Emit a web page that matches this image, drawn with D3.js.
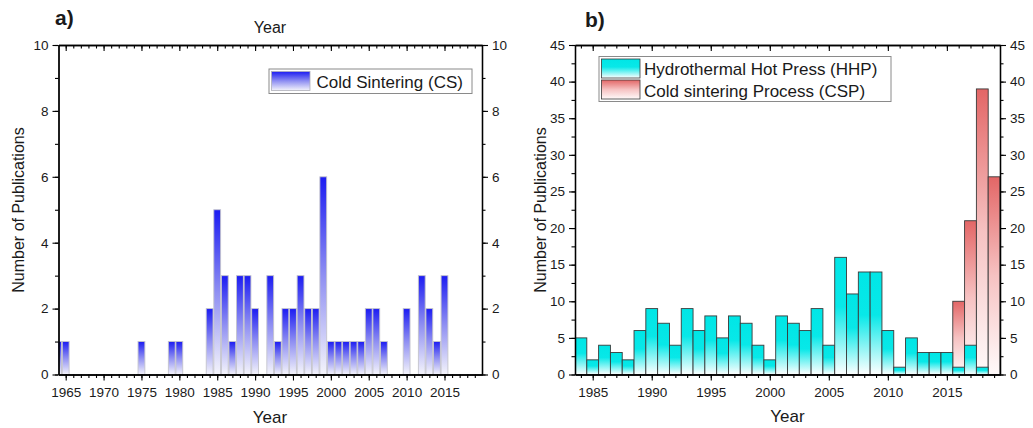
<!DOCTYPE html>
<html><head><meta charset="utf-8">
<script src="https://cdn.jsdelivr.net/npm/d3@7"></script>
<style>
body{margin:0;background:#fff}
text{font-family:"Liberation Sans",Arial,sans-serif;fill:#1a1a1a}
</style>
</head><body>
<svg id="c" width="1033" height="428"></svg>
<script>
// ---- Panel a data: Cold Sintering (CS)
const csYears  = [1964,1965,1975,1979,1980,1984,1985,1986,1987,1988,1989,1990,1992,1993,1994,1995,1996,1997,1998,1999,2000,2001,2002,2003,2004,2005,2006,2007,2010,2012,2013,2014,2015];
const csCounts = [1,1,1,1,1,2,5,3,1,3,3,2,3,1,2,2,3,2,2,6,1,1,1,1,1,2,2,1,2,3,2,1,3];
const aXTickLabels = [1965,1970,1975,1980,1985,1990,1995,2000,2005,2010,2015];
const aYTickLabels = [0,2,4,6,8,10];

// ---- Panel b data
const hhpYears  = [1984,1985,1986,1987,1988,1989,1990,1991,1992,1993,1994,1995,1996,1997,1998,1999,2000,2001,2002,2003,2004,2005,2006,2007,2008,2009,2010,2011,2012,2013,2014,2015,2016,2017,2018,2019];
const hhpCounts = [5,2,4,3,2,6,9,7,4,9,6,8,5,8,7,4,2,8,7,6,9,4,16,11,14,14,6,1,5,3,3,3,1,4,1,0];
const cspYears  = [2016,2017,2018,2019];
const cspCounts = [10,21,39,27];
const bXTickLabels = [1985,1990,1995,2000,2005,2010,2015];
const bYTickLabels = [0,5,10,15,20,25,30,35,40,45];

const svg = d3.select("#c");
const defs = svg.append("defs");
function grad(id, stops){
  const g = defs.append("linearGradient").attr("id",id).attr("x1",0).attr("y1",0).attr("x2",0).attr("y2",1);
  stops.forEach(s=>g.append("stop").attr("offset",s[0]).attr("stop-color",s[1]));
}
grad("gBlue",[[0,"#1c1cf2"],[0.5,"#8f8ff2"],[1,"#f4f4fb"]]);
grad("gCyan",[[0,"#00e6e6"],[0.42,"#08e8e8"],[1,"#ffffff"]]);
grad("gRed",[[0,"#e36666"],[0.5,"#f6c2c2"],[1,"#fffafa"]]);

const TOP=45, BOT=374.5;

function frame(x, y, xMajor, xMinor, yMajor, yMinor){
  const L = x.range()[0], R = x.range()[1];
  const g = svg.append("g");
  const style = sel=>{
    sel.selectAll(".domain").attr("stroke","#000").attr("stroke-width",1.3);
    sel.selectAll(".tick line").attr("stroke","#000").attr("stroke-width",1.1);
    sel.selectAll(".tick text").style("font-size","13.5px").attr("fill","#1a1a1a")
      .style("font-family",'"Liberation Sans",Arial,sans-serif');
  };
  g.append("g").attr("transform",`translate(0,${BOT})`).call(d3.axisBottom(x).tickValues(xMinor).tickSize(3.5).tickFormat("").tickSizeOuter(0)).call(style);
  g.append("g").attr("transform",`translate(0,${TOP})`).call(d3.axisBottom(x).tickValues(xMinor).tickSize(3.5).tickFormat("").tickSizeOuter(0)).call(style);
  g.append("g").attr("transform",`translate(${L},0)`).call(d3.axisLeft(y).tickValues(yMinor).tickSize(3.5).tickFormat("").tickSizeOuter(0)).call(style);
  g.append("g").attr("transform",`translate(${R},0)`).call(d3.axisRight(y).tickValues(yMinor).tickSize(3.5).tickFormat("").tickSizeOuter(0)).call(style);
  g.append("g").attr("transform",`translate(0,${BOT})`).call(d3.axisBottom(x).tickValues(xMajor).tickSize(6).tickPadding(7).tickFormat(d3.format("d")).tickSizeOuter(0)).call(style);
  g.append("g").attr("transform",`translate(0,${TOP})`).call(d3.axisBottom(x).tickValues(xMajor).tickSize(6).tickFormat("").tickSizeOuter(0)).call(style);
  g.append("g").attr("transform",`translate(${L},0)`).call(d3.axisLeft(y).tickValues(yMajor).tickSize(6).tickPadding(4).tickSizeOuter(0)).call(style);
  g.append("g").attr("transform",`translate(${R},0)`).call(d3.axisRight(y).tickValues(yMajor).tickSize(6).tickPadding(4).tickSizeOuter(0)).call(style);
}

function clip(id, x){
  const L=x.range()[0], R=x.range()[1];
  defs.append("clipPath").attr("id",id).append("rect").attr("x",L).attr("y",TOP).attr("width",R-L).attr("height",BOT-TOP);
}

// ===== Panel a =====
const xA = d3.scaleLinear().domain([1964.05,2019.95]).range([58.5,482]);
const yA = d3.scaleLinear().domain([0,10]).range([BOT,TOP]);
clip("clipA", xA);
svg.append("g").attr("clip-path","url(#clipA)").selectAll("rect")
  .data(csYears.map((d,i)=>({year:d,v:csCounts[i]})))
  .join("rect")
  .attr("x",d=>xA(d.year-0.45)).attr("width",d=>xA(d.year+0.45)-xA(d.year-0.45))
  .attr("y",d=>yA(d.v)).attr("height",d=>yA(0)-yA(d.v))
  .attr("fill","url(#gBlue)").attr("stroke","#c4c4cc").attr("stroke-width",0.9);

frame(xA, yA, aXTickLabels, d3.range(1965,2020), aYTickLabels, d3.range(0,11));

svg.append("text").attr("x",270).attr("y",423).attr("text-anchor","middle").style("font-size","17px").text("Year");
svg.append("text").attr("x",270).attr("y",33).attr("text-anchor","middle").style("font-size","16px").text("Year");
svg.append("text").attr("transform","translate(24,210) rotate(-90)").attr("text-anchor","middle").style("font-size","16px").text("Number of Publications");
svg.append("text").attr("x",55).attr("y",25).style("font-size","21px").style("font-weight","bold").text("a)");

// legend a
svg.append("rect").attr("x",269).attr("y",69).attr("width",203).attr("height",24.5).attr("fill","#fff").attr("stroke","#8a8a8a").attr("stroke-width",1);
svg.append("rect").attr("x",271.5).attr("y",71.5).attr("width",38.5).attr("height",19).attr("fill","url(#gBlue)").attr("stroke","#b0b0b8").attr("stroke-width",0.8);
svg.append("text").attr("x",316.5).attr("y",88).style("font-size","17px").text("Cold Sintering (CS)");

// ===== Panel b =====
const xB = d3.scaleLinear().domain([1983.5,2019.5]).range([575,1000]);
const yB = d3.scaleLinear().domain([0,45]).range([BOT,TOP]);
clip("clipB", xB);
const gb = svg.append("g").attr("clip-path","url(#clipB)");
gb.append("g").selectAll("rect")
  .data(cspYears.map((d,i)=>({year:d,v:cspCounts[i]})))
  .join("rect")
  .attr("x",d=>xB(d.year-0.5)).attr("width",d=>xB(d.year+0.5)-xB(d.year-0.5))
  .attr("y",d=>yB(d.v)).attr("height",d=>yB(0)-yB(d.v))
  .attr("fill","url(#gRed)").attr("stroke","#3a3a3a").attr("stroke-width",0.9);
gb.append("g").selectAll("rect")
  .data(hhpYears.map((d,i)=>({year:d,v:hhpCounts[i]})).filter(d=>d.v>0))
  .join("rect")
  .attr("x",d=>xB(d.year-0.5)).attr("width",d=>xB(d.year+0.5)-xB(d.year-0.5))
  .attr("y",d=>yB(d.v)).attr("height",d=>yB(0)-yB(d.v))
  .attr("fill","url(#gCyan)").attr("stroke","#3a3a3a").attr("stroke-width",0.9);

frame(xB, yB, bXTickLabels, d3.range(1984,2020), bYTickLabels, d3.range(0,46,2.5));

svg.append("text").attr("x",787.5).attr("y",422).attr("text-anchor","middle").style("font-size","17px").text("Year");
svg.append("text").attr("transform","translate(546,210) rotate(-90)").attr("text-anchor","middle").style("font-size","16px").text("Number of Publications");
svg.append("text").attr("x",585).attr("y",27).style("font-size","21px").style("font-weight","bold").text("b)");

// legend b
svg.append("rect").attr("x",599).attr("y",56.5).attr("width",292).attr("height",45).attr("fill","#fff").attr("stroke","#8a8a8a").attr("stroke-width",1);
svg.append("rect").attr("x",601.5).attr("y",59).attr("width",38.5).attr("height",19).attr("fill","url(#gCyan)").attr("stroke","#3a3a3a").attr("stroke-width",0.8);
svg.append("rect").attr("x",601.5).attr("y",80).attr("width",38.5).attr("height",19).attr("fill","url(#gRed)").attr("stroke","#3a3a3a").attr("stroke-width",0.8);
svg.append("text").attr("x",644).attr("y",75).style("font-size","17px").text("Hydrothermal Hot Press (HHP)");
svg.append("text").attr("x",644).attr("y",96.5).style("font-size","17px").text("Cold sintering Process (CSP)");
</script>
</body></html>
